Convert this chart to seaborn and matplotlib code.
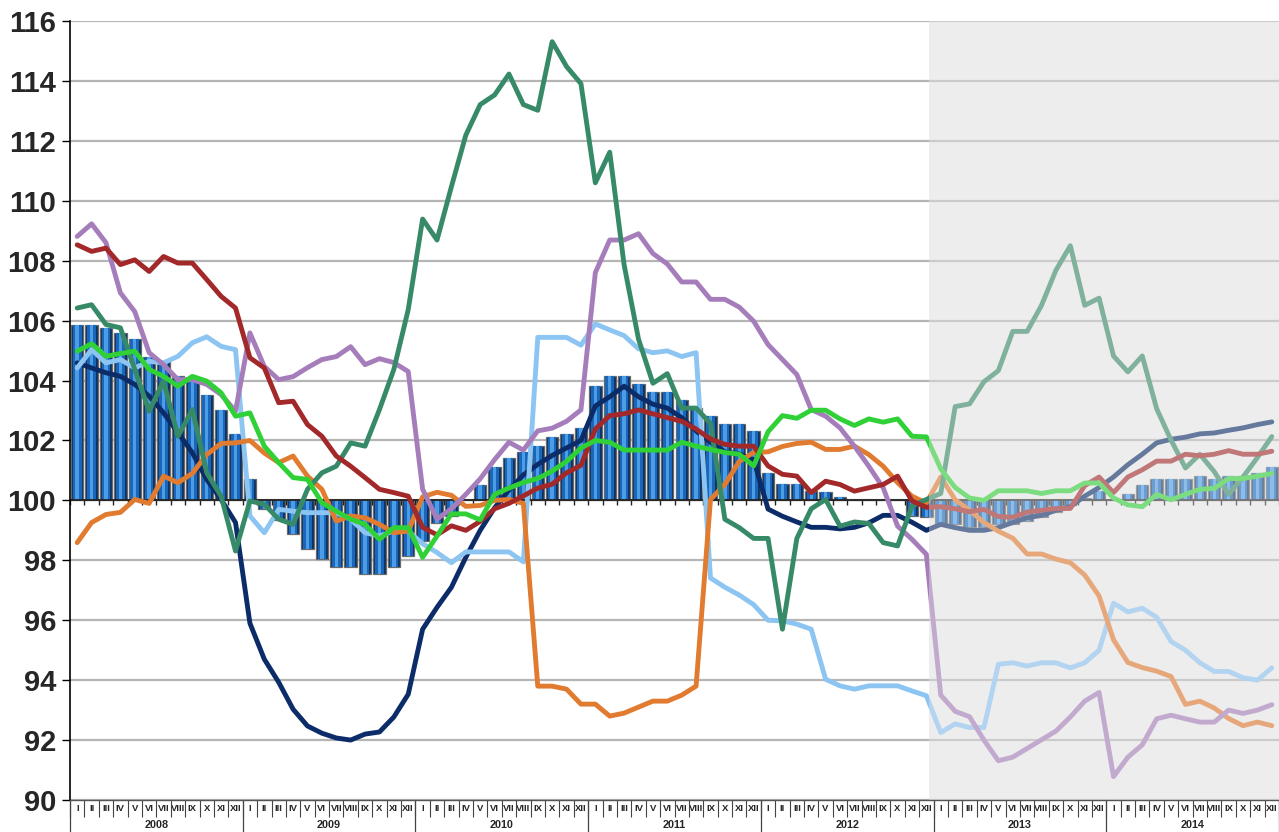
import numpy as np
import pandas as pd
import matplotlib
matplotlib.use('Agg')
import matplotlib.pyplot as plt
import seaborn as sns

years = ['2008', '2009', '2010', '2011', '2012', '2013', '2014']
months = ['I', 'II', 'III', 'IV', 'V', 'VI', 'VII', 'VIII', 'IX', 'X', 'XI', 'XII']

bars = [105.87, 105.87, 105.77, 105.6, 105.37, 104.77, 104.65, 104.15, 103.97, 103.53, 103.03, 102.2,
        100.7, 99.7, 99.35, 98.87, 98.37, 98.03, 97.77, 97.77, 97.53, 97.53, 97.77, 98.13,
        98.64, 99.26, 99.48, 100.0, 100.5, 101.1, 101.4, 101.62, 101.8, 102.1, 102.2, 102.4,
        103.82, 104.14, 104.14, 103.9, 103.63, 103.63, 103.34, 103.1, 102.83, 102.54, 102.54, 102.32,
        100.92, 100.54, 100.54, 100.31, 100.28, 100.1, 100.0, 100.0, 100.0, 100.0, 99.48, 99.45,
        99.26, 99.2, 99.11, 99.11, 99.2, 99.2, 99.32, 99.46, 99.61, 99.85, 100.09, 100.31,
        100.02, 100.2, 100.5, 100.7, 100.7, 100.7, 100.8, 100.7, 100.8, 100.8, 100.9, 101.1]

navy = [104.59, 104.42, 104.26, 104.14, 103.87, 103.48, 102.92, 102.26, 101.59, 100.7, 100.03, 99.26,
        95.9, 94.7, 93.93, 93.03, 92.47, 92.23, 92.07, 92.0, 92.2, 92.27, 92.77, 93.53,
        95.7, 96.43, 97.1, 98.1, 99.0, 99.75, 100.35, 100.85, 101.2, 101.5, 101.75, 102.0,
        103.15, 103.46, 103.81, 103.46, 103.21, 103.08, 102.76, 102.32, 101.94, 101.62, 101.55, 101.36,
        99.71, 99.47, 99.28, 99.1, 99.1, 99.05, 99.1, 99.25, 99.5, 99.5, 99.27, 99.0,
        99.2, 99.09, 99.0, 99.0, 99.09, 99.26, 99.42, 99.5, 99.67, 99.79, 100.14, 100.43,
        100.78, 101.19, 101.54, 101.92, 102.04, 102.11, 102.22, 102.25, 102.34, 102.42, 102.53, 102.62]

light_blue = [104.42, 105.03, 104.59, 104.7, 104.42, 104.64, 104.59, 104.81, 105.26, 105.46, 105.14, 105.03,
              99.48, 98.92, 99.7, 99.64, 99.59, 99.59, 99.59, 99.37, 98.92, 98.81, 98.98, 98.98,
              98.55, 98.26, 97.92, 98.28, 98.28, 98.28, 98.28, 97.95, 105.44, 105.44, 105.44, 105.18,
              105.89, 105.69, 105.5, 105.06, 104.93, 104.99, 104.8, 104.93, 97.41, 97.1, 96.84, 96.52,
              96.0, 95.98, 95.87, 95.7, 94.03, 93.81, 93.7, 93.81, 93.81, 93.81, 93.64, 93.48,
              92.25, 92.54, 92.42, 92.42, 94.53, 94.58, 94.47, 94.58, 94.58, 94.41, 94.58, 95.0,
              96.57, 96.28, 96.4, 96.1, 95.29, 95.0, 94.58, 94.29, 94.29, 94.08, 94.0, 94.41]

orange = [98.59, 99.26, 99.53, 99.6, 100.03, 99.9, 100.81, 100.59, 100.9, 101.53, 101.9, 101.92,
          102.0, 101.58, 101.26, 101.48, 100.81, 100.37, 99.31, 99.48, 99.42, 99.2, 98.92, 98.98,
          100.12, 100.27, 100.17, 99.8, 99.83, 100.0, 100.03, 99.9, 93.8, 93.8, 93.7, 93.2,
          93.2, 92.8, 92.9, 93.1, 93.3, 93.3, 93.5, 93.8, 100.03, 100.53, 101.3, 101.6,
          101.62, 101.8, 101.9, 101.94, 101.7, 101.7, 101.81, 101.53, 101.14, 100.59, 100.14, 99.91,
          100.78, 100.02, 99.67, 99.26, 98.97, 98.74, 98.21, 98.21, 98.04, 97.92, 97.51, 96.81,
          95.35, 94.59, 94.42, 94.3, 94.12, 93.19, 93.3, 93.07, 92.72, 92.48, 92.6, 92.48]

purple = [108.81, 109.23, 108.6, 106.93, 106.3, 104.93, 104.53, 104.03, 104.03, 103.87, 103.53, 102.98,
          105.59, 104.47, 104.03, 104.13, 104.43, 104.7, 104.8, 105.13, 104.53, 104.73, 104.6, 104.3,
          100.37, 99.38, 99.72, 100.2, 100.72, 101.36, 101.94, 101.68, 102.32, 102.41, 102.64, 103.02,
          107.6, 108.69, 108.69, 108.9, 108.24, 107.89, 107.29, 107.29, 106.71, 106.71, 106.45, 105.98,
          105.2, 104.7, 104.2, 103.03, 102.81, 102.42, 101.81, 101.14, 100.42, 99.14, 98.7, 98.2,
          93.5, 92.96, 92.78, 92.0, 91.31, 91.43, 91.72, 92.01, 92.3, 92.77, 93.3, 93.59,
          90.78, 91.43, 91.84, 92.71, 92.83, 92.71, 92.6, 92.6, 93.0, 92.89, 93.0, 93.18]

teal = [106.42, 106.53, 105.87, 105.76, 104.37, 102.98, 103.98, 102.14, 103.03, 100.92, 100.14, 98.31,
        99.98, 99.87, 99.37, 99.2, 100.37, 100.92, 101.14, 101.92, 101.81, 103.03, 104.37, 106.37,
        109.39, 108.69, 110.47, 112.19, 113.21, 113.53, 114.23, 113.21, 113.02, 115.31, 114.48, 113.91,
        110.6, 111.62, 107.86, 105.38, 103.91, 104.23, 103.08, 103.08, 102.57, 99.37, 99.09, 98.73,
        98.73, 95.7, 98.73, 99.72, 100.03, 99.14, 99.28, 99.23, 98.59, 98.48, 99.81, 100.03,
        100.23, 103.13, 103.22, 103.96, 104.33, 105.64, 105.64, 106.51, 107.68, 108.5, 106.51, 106.75,
        104.82, 104.29, 104.82, 103.06, 102.01, 101.08, 101.54, 100.96, 100.2, 100.78, 101.43, 102.13]

red = [108.53, 108.31, 108.42, 107.87, 108.03, 107.64, 108.14, 107.92, 107.92, 107.37, 106.81, 106.42,
       104.76, 104.42, 103.26, 103.31, 102.53, 102.14, 101.48, 101.14, 100.76, 100.37, 100.26, 100.14,
       99.1, 98.85, 99.15, 99.0, 99.3, 99.72, 99.9, 100.15, 100.41, 100.54, 100.92, 101.17,
       102.38, 102.83, 102.89, 103.02, 102.89, 102.76, 102.64, 102.38, 102.05, 101.87, 101.81, 101.81,
       101.15, 100.87, 100.81, 100.26, 100.64, 100.53, 100.31, 100.42, 100.53, 100.81, 99.98, 99.77,
       99.79, 99.72, 99.62, 99.7, 99.46, 99.44, 99.61, 99.67, 99.73, 99.73, 100.49, 100.78,
       100.26, 100.78, 101.02, 101.31, 101.31, 101.54, 101.49, 101.54, 101.66, 101.54, 101.54, 101.64]

green = [104.98, 105.23, 104.81, 104.9, 104.98, 104.37, 104.14, 103.81, 104.14, 103.98, 103.59, 102.81,
         102.92, 101.81, 101.26, 100.76, 100.7, 99.92, 99.64, 99.37, 99.2, 98.7, 99.09, 99.09,
         98.1, 98.81, 99.55, 99.55, 99.35, 100.2, 100.41, 100.6, 100.73, 100.98, 101.3, 101.75,
         102.0, 101.94, 101.68, 101.68, 101.68, 101.68, 101.94, 101.81, 101.7, 101.6, 101.54, 101.15,
         102.29, 102.83, 102.74, 103.01, 103.01, 102.72, 102.5, 102.72, 102.61, 102.72, 102.14, 102.12,
         101.05, 100.43, 100.08, 100.0, 100.32, 100.32, 100.32, 100.23, 100.32, 100.32, 100.58, 100.58,
         100.08, 99.85, 99.79, 100.2, 100.02, 100.2, 100.37, 100.4, 100.73, 100.73, 100.81, 100.9]

series_names = ['navy', 'light_blue', 'orange', 'purple', 'teal', 'red', 'green']
series_values = [navy, light_blue, orange, purple, teal, red, green]
palette = {'navy': '#0b2c68', 'light_blue': '#8cc4f2', 'orange': '#e17b2f',
           'purple': '#a67dbb', 'teal': '#378a67', 'red': '#a3282a', 'green': '#2fd137'}

sns.set_style('white')
plt.rcParams['font.family'] = ['Liberation Sans', 'DejaVu Sans']

n = len(bars)
x = np.arange(n)

records = []
for name, vals in zip(series_names, series_values):
    for i, v in enumerate(vals):
        records.append({'month': i, 'value': v, 'series': name})
df = pd.DataFrame(records)

fig = plt.figure(figsize=(12.79, 8.32), dpi=100)
ax = fig.add_axes([70 / 1279, 32 / 832, 1209 / 1279, 779 / 832])

shade_start = 59.15
ax.axvspan(shade_start, n - 0.5, color='#ededed', lw=0, zorder=0)

ax.set_ylim(90, 116)
ax.set_xlim(-0.5, n - 0.5)
ax.set_yticks(np.arange(90, 117, 2))
ax.grid(axis='y', color='#b5b5b5', lw=1.6)
ax.grid(axis='x', visible=False)
ax.set_axisbelow(True)

# bars (3D-like cylinders)
b = np.array(bars) - 100
ax.bar(x, b, bottom=100, width=0.86, color='#0f3260', edgecolor='#6a6a6a', lw=0.9, zorder=2)
ax.bar(x, b, bottom=100, width=0.6, color='#1867bb', lw=0, zorder=2.1)
ax.bar(x, b, bottom=100, width=0.24, color='#4c9ce6', lw=0, zorder=2.2)

# category axis crossing at 100
ax.axhline(100, color='#222222', lw=1.3, zorder=2.5)
ax.vlines(np.arange(n + 1) - 0.5, 99.86, 100, color='#222222', lw=1, zorder=2.5)

sns.lineplot(data=df, x='month', y='value', hue='series', hue_order=series_names,
             palette=palette, linewidth=3.5, legend=False, ax=ax, zorder=3)

# fade overlay for forecast period
ax.axvspan(shade_start, n - 0.5, color='#eeeeee', alpha=0.4, lw=0, zorder=4)

for s in ['top', 'right']:
    ax.spines[s].set_visible(False)
ax.spines['left'].set_color('black')
ax.spines['left'].set_linewidth(1.2)
ax.spines['bottom'].set_color('#555555')
ax.spines['bottom'].set_linewidth(1.0)

ax.set_xlabel('')
ax.set_ylabel('')
ax.set_yticklabels([str(v) for v in range(90, 117, 2)], fontsize=21, fontweight='bold')
ax.tick_params(axis='y', length=6, width=1, pad=4, color='black', left=True)

ax.set_xticks(x)
ax.set_xticklabels(months * len(years), fontsize=6.8, fontweight='bold')
ax.set_xticks(np.arange(n + 1) - 0.5, minor=True)
ax.tick_params(axis='x', which='major', length=0, pad=3)
ax.tick_params(axis='x', which='minor', length=12.5, width=0.8, color='#444444', bottom=True)

xt = ax.get_xaxis_transform()
for k in range(len(years) + 1):
    xb = 12 * k - 0.5
    ax.plot([xb, xb], [0, -0.041], transform=xt, clip_on=False, color='#444444', lw=0.9)
for k, yr in enumerate(years):
    ax.text(12 * k + 5.5, -0.032, yr, transform=xt, ha='center', va='center',
            fontsize=7.8, fontweight='bold')

fig.savefig('out.png', dpi=100)
